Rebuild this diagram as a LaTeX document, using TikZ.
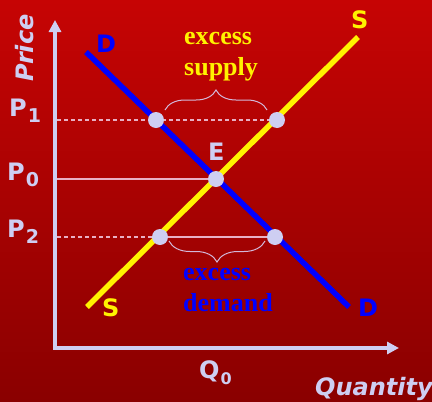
\documentclass[tikz,border=0pt]{standalone}
\usepackage{fontspec}
\setsansfont{DejaVu Sans}
\newfontfamily\tnr{Liberation Serif}
\usetikzlibrary{arrows.meta, decorations.pathreplacing}

\definecolor{bgtop}{RGB}{198,4,4}
\definecolor{bgbot}{RGB}{138,0,0}
\definecolor{lav}{RGB}{206,206,242}
\definecolor{refl}{RGB}{232,176,196}

\newcommand{\Sub}[2][19]{\kern1pt\raisebox{-6pt}{\fontsize{#1}{#1}\selectfont #2}}

\begin{document}
\begin{tikzpicture}[
  x=1pt, y=-1pt,
  lbl/.style={inner sep=0pt, anchor=base west, font=\sffamily\bfseries\fontsize{24}{28}\selectfont},
  note/.style={inner sep=0pt, anchor=base west, align=left, font=\tnr\bfseries\fontsize{26}{31}\selectfont},
  axis/.style={draw=lav, line width=4pt, line join=miter,
               {Triangle[length=12pt, width=12pt]}-{Triangle[length=12pt, width=12pt]}},
  dline/.style={draw=blue, line width=5.5pt},
  sline/.style={draw=yellow, line width=5.5pt},
  refl/.style={draw=refl, line width=1.1pt},
  dsh/.style={refl, dash pattern=on 4pt off 3pt},
  brc/.style={draw=lav!90!red, line width=1pt, decorate},
  dot/.style={circle, fill=lav, minimum size=16pt, inner sep=0pt},
]

% ---- background ----
\fill[top color=bgtop, bottom color=bgbot] (0,0) rectangle (432,402);
\useasboundingbox (0,0) rectangle (432,402);

% ---- axes ----
\coordinate (ytip) at (55,20);
\coordinate (orig) at (55,348);
\coordinate (xtip) at (399,348);
\draw[axis] (ytip) -- (orig) -- (xtip);

% ---- points on the curves ----
\coordinate (d1) at (156,120);
\coordinate (s1) at (277,120);
\coordinate (eq) at (216,179);
\coordinate (s2) at (160,237);
\coordinate (d2) at (275,237);
\coordinate (a1) at (57,120);
\coordinate (a0) at (57,179);
\coordinate (a2) at (57,237);

% ---- price levels ----
\draw[dsh] (a1) -- (d1) -- (s1);
\draw[refl] (a0) -- (eq);
\draw[dsh] (a2) -- (s2);
\draw[refl] (s2) -- (d2);

% ---- braces ----
\coordinate (bs1) at (165,110);
\coordinate (bs2) at (267,110);
\coordinate (bd1) at (169,241);
\coordinate (bd2) at (265,241);
\draw[brc, decoration={brace, amplitude=20pt}] (bs1) -- (bs2);
\draw[brc, decoration={brace, mirror, amplitude=21pt}] (bd1) -- (bd2);

% ---- demand and supply ----
\coordinate (dtop) at (86,52);
\coordinate (dbot) at (349,307);
\coordinate (stop) at (358,37);
\coordinate (sbot) at (87,307);
\draw[dline] (dtop) -- (dbot);
\draw[sline] (sbot) -- (stop);

\foreach \p in {d1, s1, eq, s2, d2}
  \node[dot] (dot-\p) at (\p) {};

% ---- labels ----
\node[lbl, text=blue]   (dlab1) at (96,52)   {D};
\node[lbl, text=blue]   (dlab2) at (358,316) {D};
\node[lbl, text=yellow] (slab1) at (351,28)  {S};
\node[lbl, text=yellow] (slab2) at (102,316) {S};
\node[lbl, text=lav]    (elab)  at (208,160) {E};
\node[lbl, text=lav]    (p1)    at (9,116)   {P\Sub{1}};
\node[lbl, text=lav]    (p0)    at (7,180)   {P\Sub{0}};
\node[lbl, text=lav]    (p2)    at (7,237)   {P\Sub{2}};
\node[lbl, text=lav]    (q0)    at (199,378) {Q\Sub[16]{0}};
\node[lbl, text=lav, font=\sffamily\bfseries\itshape\fontsize{24}{28}\selectfont, rotate=90]
  (price) at (34,82) {Price};
\node[lbl, text=lav, font=\sffamily\bfseries\itshape\fontsize{24}{28}\selectfont]
  (qty) at (315,395) {Quantity};

% (base anchor sits on the last line)
\node[note, text=yellow] (exs) at (184,75)  {excess\\supply};
\node[note, text=blue]   (exd) at (183,311) {excess\\demand};

\end{tikzpicture}
\end{document}
